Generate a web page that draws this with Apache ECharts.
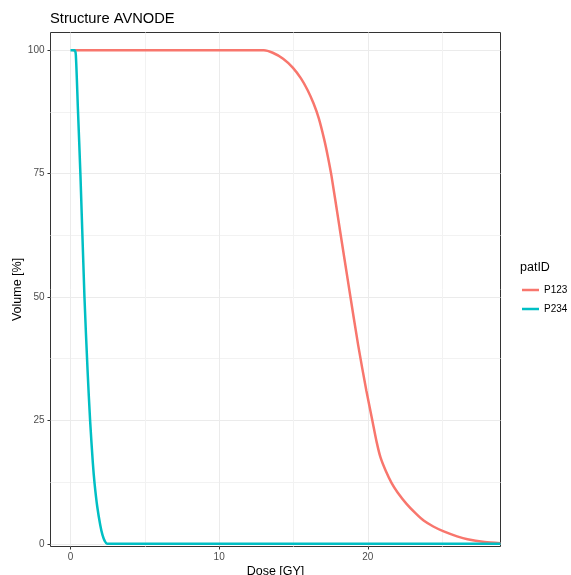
<!DOCTYPE html>
<html>
<head>
<meta charset="utf-8">
<script src="https://cdn.jsdelivr.net/npm/echarts@6/dist/echarts.min.js"></script>
<style>
html,body{margin:0;padding:0;background:#fff;}
#c{width:571px;height:575px;}
</style>
</head>
<body>
<div id="c"></div>
<script>
// ---- data ----
var seriesNames = ['P123', 'P234'];
var p123Dose = [0.15, 13.0, 13.6, 14.3, 14.95, 15.5, 15.95, 16.35, 16.7, 17.05, 17.3, 17.55, 18.1, 18.75, 19.35, 19.9, 20.3, 20.6, 20.85, 21.2, 21.6, 22.0, 22.6, 23.2, 23.75, 24.4, 25.1, 26.0, 26.7, 27.85, 28.92];
var p123Vol  = [100, 100, 99.5, 98.3, 96.5, 94.3, 91.9, 89.2, 86.2, 82.1, 78.6, 74.6, 64.0, 51.5, 40.2, 31.0, 25.0, 20.5, 17.5, 14.8, 12.3, 10.4, 8.1, 6.2, 4.7, 3.5, 2.5, 1.5, 0.9, 0.35, 0.1];
var p234Dose = [0.0, 0.28, 0.36, 0.5, 0.67, 0.94, 1.15, 1.32, 1.5, 1.62, 1.8, 2.0, 2.15, 2.3, 2.45, 3.0, 10.0, 20.0, 28.92];
var p234Vol  = [100, 100, 99, 88, 74.6, 49.9, 35, 24.9, 16.5, 12.2, 7.5, 3.8, 1.8, 0.6, 0, 0, 0, 0, 0];
var xTicks = [0, 10, 20];
var xMinor = [5, 15, 25];
var yTicks = [0, 25, 50, 75, 100];
var yMinor = [12.5, 37.5, 62.5, 87.5];
var colors = ['#F8766D', '#00BFC4'];

function pairs(xs, ys) { return xs.map(function (x, i) { return [x, ys[i]]; }); }

var FONT = '"Liberation Sans", Arial, sans-serif';
var xMin = -1.345, xMax = 28.92, yMin = -0.55, yMax = 103.6;

var chart = echarts.init(document.getElementById('c'), null, {renderer: 'canvas'});
var option = {
  animation: false,
  backgroundColor: '#ffffff',
  title: [
    {text: 'Structure AVNODE', left: 50, top: 11, padding: 0, textStyle: {fontFamily: FONT, fontSize: 14.7, fontWeight: 'normal', color: '#000'}},
    {text: 'patID', left: 520, top: 261, padding: 0, textStyle: {fontFamily: FONT, fontSize: 12.5, fontWeight: 'normal', color: '#000'}}
  ],
  legend: {
    orient: 'vertical',
    left: 522,
    top: 284,
    padding: 0,
    icon: 'rect',
    itemWidth: 17,
    itemHeight: 2.5,
    itemGap: 7,
    data: seriesNames,
    textStyle: {fontFamily: FONT, fontSize: 10, color: '#000', lineHeight: 12}
  },
  grid: {left: 50.5, right: 70.5, top: 32.5, bottom: 28.5, show: true, borderColor: '#333333', borderWidth: 1, backgroundColor: '#ffffff', containLabel: false, outerBoundsMode: 'none'},
  xAxis: [
    {
      type: 'value', min: xMin, max: xMax,
      name: 'Dose [GY]', nameLocation: 'middle', nameGap: 19, nameMoveOverlap: false,
      nameTextStyle: {fontFamily: FONT, fontSize: 12.5, color: '#000'},
      axisLine: {show: false, onZero: false},
      axisTick: {show: true, length: 3, lineStyle: {color: '#333333'}, customValues: xTicks},
      axisLabel: {show: true, margin: 6, fontFamily: FONT, fontSize: 10, color: '#4d4d4d', customValues: xTicks},
      splitLine: {show: true, lineStyle: {color: '#ebebeb', width: 1}}
    },
    {
      type: 'value', min: xMin, max: xMax, position: 'bottom', offset: 0,
      axisLine: {show: false, onZero: false},
      axisTick: {show: false, customValues: xMinor},
      axisLabel: {show: false, customValues: xMinor},
      splitLine: {show: true, lineStyle: {color: '#f2f2f2', width: 1}}
    }
  ],
  yAxis: [
    {
      type: 'value', min: yMin, max: yMax,
      name: 'Volume [%]', nameLocation: 'middle', nameGap: 26, nameMoveOverlap: false,
      nameTextStyle: {fontFamily: FONT, fontSize: 12.5, color: '#000'},
      axisLine: {show: false, onZero: false},
      axisTick: {show: true, length: 3, lineStyle: {color: '#333333'}, customValues: yTicks},
      axisLabel: {show: true, margin: 6, fontFamily: FONT, fontSize: 10, color: '#4d4d4d', customValues: yTicks},
      splitLine: {show: true, lineStyle: {color: '#ebebeb', width: 1}}
    },
    {
      type: 'value', min: yMin, max: yMax, position: 'left', offset: 0,
      axisLine: {show: false, onZero: false},
      axisTick: {show: false, customValues: yMinor},
      axisLabel: {show: false, customValues: yMinor},
      splitLine: {show: true, lineStyle: {color: '#f2f2f2', width: 1}}
    }
  ],
  series: [
    {
      name: seriesNames[0], type: 'line', xAxisIndex: 0, yAxisIndex: 0,
      data: pairs(p123Dose, p123Vol), showSymbol: false, symbol: 'none',
      smooth: 0.25,
      lineStyle: {color: colors[0], width: 2.5}, itemStyle: {color: colors[0]}
    },
    {
      name: seriesNames[1], type: 'line', xAxisIndex: 0, yAxisIndex: 0,
      data: pairs(p234Dose, p234Vol), showSymbol: false, symbol: 'none',
      smooth: 0.25,
      lineStyle: {color: colors[1], width: 2.5}, itemStyle: {color: colors[1]}
    }
  ]
};
chart.setOption(option);
</script>
</body>
</html>
